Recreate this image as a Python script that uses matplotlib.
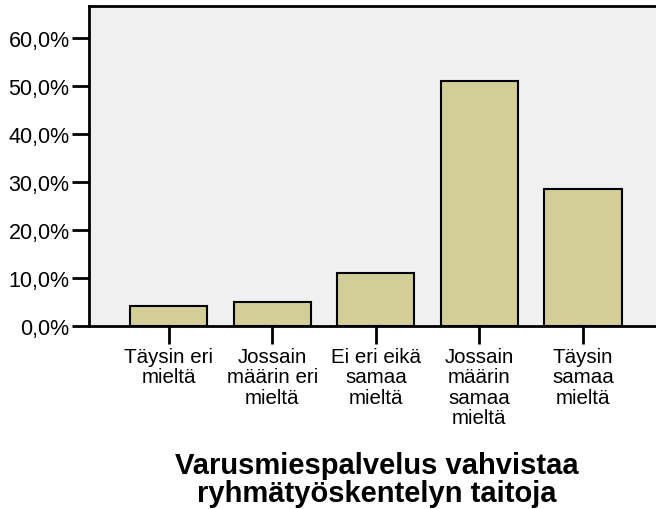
import matplotlib.pyplot as plt
from matplotlib.ticker import FuncFormatter

plt.rcParams['font.family'] = ['Liberation Sans', 'DejaVu Sans']

categories = ['Täysin eri\nmieltä', 'Jossain\nmäärin eri\nmieltä', 'Ei eri eikä\nsamaa\nmieltä',
              'Jossain\nmäärin\nsamaa\nmieltä', 'Täysin\nsamaa\nmieltä']
percent = [4.2, 5.0, 11.0, 51.0, 28.5]
yticks = [0, 10, 20, 30, 40, 50, 60]

fig = plt.figure(figsize=(6.56, 5.10), dpi=100)
ax = fig.add_axes([89 / 656, 1 - 327 / 510, 1 - 89 / 656, 320 / 510])
ax.set_facecolor('#f0f0f0')

x = range(len(categories))
ax.bar(x, percent, width=0.745, color='#d3ce97', edgecolor='black', linewidth=1.5, zorder=2)

ax.set_xlim(-0.77, 4.705)
ax.set_ylim(0, 66.7)
ax.set_yticks(yticks)
ax.yaxis.set_major_formatter(FuncFormatter(lambda v, p: f'{v:.1f}%'.replace('.', ',')))
ax.set_xticks(list(x))
ax.set_xticklabels(categories, fontsize=14.8, linespacing=1.1, va='top')
ax.tick_params(axis='y', labelsize=15.5, length=12, width=2, pad=2)
ax.tick_params(axis='x', length=13, width=2, pad=2)

ax.spines['right'].set_visible(False)
for s in ['left', 'bottom', 'top']:
    ax.spines[s].set_linewidth(2)

fig.text(377 / 656, 2 / 510, 'Varusmiespalvelus vahvistaa\nryhmätyöskentelyn taitoja',
         ha='center', va='bottom', fontsize=21, fontweight='bold', linespacing=1.0)

fig.savefig('out.png', dpi=100)
